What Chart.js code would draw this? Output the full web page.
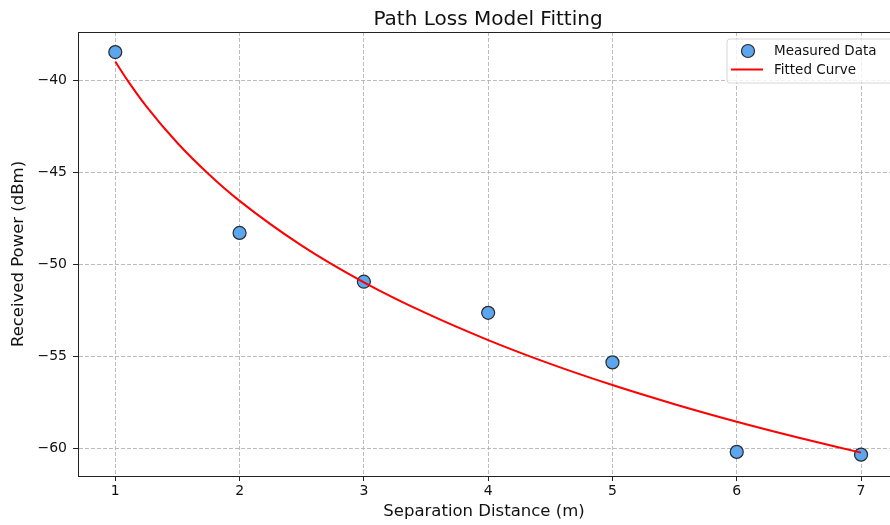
<!DOCTYPE html>
<html>
<head>
<meta charset="utf-8">
<script src="https://cdn.jsdelivr.net/npm/chart.js@4.4.1/dist/chart.umd.min.js"></script>
<style>
  html, body { margin: 0; padding: 0; background: #fff; overflow: hidden; }
  #pathLossChart { width: 890px; height: 525px; display: block; }
</style>
</head>
<body>
<canvas id="pathLossChart" width="890" height="525"></canvas>
<script>
// measured points
const distances = [1, 2, 3, 4, 5, 6, 7];
const measuredPower = [-38.48, -48.30, -50.95, -52.64, -55.33, -60.19, -60.34];

// fitted curve
const curveDistances = [1, 1.1, 1.25, 1.5, 1.75, 2, 2.5, 3, 3.5, 4, 4.5, 5, 5.5, 6, 6.5, 7];
const curvePower = [-38.99, -40.03, -41.43, -43.42, -45.10, -46.56, -48.99, -50.98,
                    -52.66, -54.12, -55.41, -56.56, -57.60, -58.55, -59.42, -60.23];

const xTicks = [1, 2, 3, 4, 5, 6, 7];
const yTicks = [-60, -55, -50, -45, -40];

const FONT = 'DejaVu Sans';
const gridColor = 'rgba(176,176,176,0.85)';
const pointFill = '#5ca6ef';

const minus = v => String(v).replace('-', '\u2212');

// title, top spine and legend drawn like matplotlib (right side of the figure is cropped)
const extras = {
    id: 'extras',
    afterDraw(chart) {
        const ctx = chart.ctx;
        const a = chart.chartArea;
        ctx.save();

        // top spine
        ctx.strokeStyle = '#222';
        ctx.lineWidth = 1;
        ctx.beginPath();
        ctx.moveTo(a.left, a.top + 0.5);
        ctx.lineTo(a.right, a.top + 0.5);
        ctx.stroke();

        // title
        ctx.fillStyle = '#111';
        ctx.font = `20px "${FONT}"`;
        ctx.textAlign = 'center';
        ctx.textBaseline = 'alphabetic';
        ctx.fillText('Path Loss Model Fitting', 488, 25);

        // legend box
        const bx = 727, by = 39, bw = 168, bh = 44, r = 3;
        ctx.beginPath();
        ctx.moveTo(bx + r, by);
        ctx.lineTo(bx + bw - r, by);
        ctx.arcTo(bx + bw, by, bx + bw, by + r, r);
        ctx.lineTo(bx + bw, by + bh - r);
        ctx.arcTo(bx + bw, by + bh, bx + bw - r, by + bh, r);
        ctx.lineTo(bx + r, by + bh);
        ctx.arcTo(bx, by + bh, bx, by + bh - r, r);
        ctx.lineTo(bx, by + r);
        ctx.arcTo(bx, by, bx + r, by, r);
        ctx.closePath();
        ctx.fillStyle = 'rgba(255,255,255,0.8)';
        ctx.fill();
        ctx.strokeStyle = '#d6d6d6';
        ctx.stroke();

        // legend entries
        ctx.beginPath();
        ctx.arc(748, 51, 6.5, 0, Math.PI * 2);
        ctx.fillStyle = pointFill;
        ctx.fill();
        ctx.strokeStyle = '#2a2a2a';
        ctx.lineWidth = 1.2;
        ctx.stroke();

        ctx.beginPath();
        ctx.moveTo(731, 69.5);
        ctx.lineTo(763, 69.5);
        ctx.strokeStyle = '#ff0000';
        ctx.lineWidth = 2;
        ctx.stroke();

        ctx.fillStyle = '#111';
        ctx.font = `13.5px "${FONT}"`;
        ctx.textAlign = 'left';
        ctx.textBaseline = 'middle';
        ctx.fillText('Measured Data', 774, 51);
        ctx.fillText('Fitted Curve', 774, 70);

        ctx.restore();
    }
};

function renderChart() {
    const ctx = document.querySelector('#pathLossChart').getContext('2d');
    new Chart(ctx, {
        type: 'scatter',
        data: {
            datasets: [
                {
                    label: 'Fitted Curve',
                    type: 'line',
                    data: curveDistances.map((d, i) => ({ x: d, y: curvePower[i] })),
                    borderColor: '#ff0000',
                    borderWidth: 2,
                    pointRadius: 0,
                    fill: false,
                    cubicInterpolationMode: 'monotone',
                    order: 0,
                },
                {
                    label: 'Measured Data',
                    data: distances.map((d, i) => ({ x: d, y: measuredPower[i] })),
                    backgroundColor: pointFill,
                    borderColor: '#2a2a2a',
                    borderWidth: 1.2,
                    pointRadius: 6.5,
                    order: 1,
                }
            ]
        },
        options: {
            responsive: false,
            animation: false,
            devicePixelRatio: 1,
            layout: { autoPadding: false, padding: { top: 32, left: 0, right: 0, bottom: 0 } },
            plugins: {
                legend: { display: false },
                tooltip: { enabled: false },
            },
            scales: {
                x: {
                    type: 'linear',
                    min: 0.7,
                    max: 7.233,
                    afterBuildTicks: scale => { scale.ticks = xTicks.map(v => ({ value: v })); },
                    afterFit: scale => { scale.height = 49; },
                    grid: {
                        color: gridColor,
                        lineWidth: 1,
                        tickLength: 5,
                        tickColor: '#222',
                        tickBorderDash: [],
                    },
                    border: { display: true, color: '#222', width: 1, dash: [4, 2] },
                    ticks: {
                        color: '#111',
                        font: { family: FONT, size: 14 },
                        padding: 2,
                        callback: v => minus(v),
                    },
                    title: {
                        display: true,
                        text: 'Separation Distance (m)',
                        color: '#111',
                        font: { family: FONT, size: 16.5 },
                        padding: { top: 0, bottom: 3 },
                    }
                },
                y: {
                    type: 'linear',
                    min: -61.5,
                    max: -37.39,
                    afterBuildTicks: scale => { scale.ticks = yTicks.map(v => ({ value: v })); },
                    afterFit: scale => { scale.width = 78; },
                    grid: {
                        color: gridColor,
                        lineWidth: 1,
                        tickLength: 5,
                        tickColor: '#222',
                        tickBorderDash: [],
                    },
                    border: { display: true, color: '#222', width: 1, dash: [4, 2] },
                    ticks: {
                        color: '#111',
                        font: { family: FONT, size: 14 },
                        padding: 6,
                        callback: v => minus(v),
                    },
                    title: {
                        display: true,
                        text: 'Received Power (dBm)',
                        color: '#111',
                        font: { family: FONT, size: 16.5 },
                        padding: { top: 8.5, bottom: 0 },
                    }
                }
            }
        },
        plugins: [extras]
    });
}

document.addEventListener('DOMContentLoaded', renderChart);
</script>
</body>
</html>
